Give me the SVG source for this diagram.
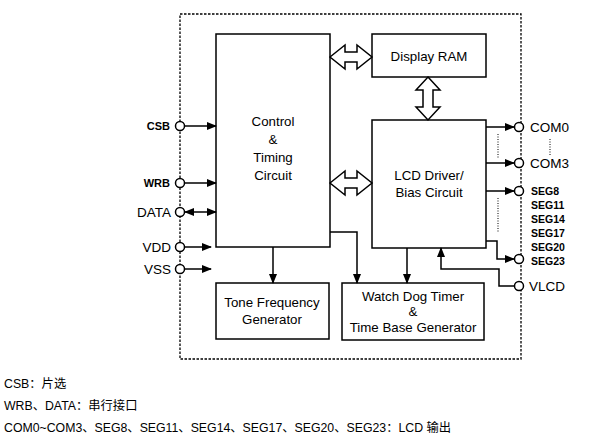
<svg xmlns="http://www.w3.org/2000/svg" width="599" height="439" viewBox="0 0 599 439">
<defs>
<marker id="ah" markerWidth="10" markerHeight="8" refX="9" refY="4" orient="auto" markerUnits="userSpaceOnUse">
<path d="M0,0 L10,4 L0,8 Z" fill="#000"/>
</marker>
<marker id="ahs" markerWidth="10" markerHeight="8" refX="1" refY="4" orient="auto" markerUnits="userSpaceOnUse">
<path d="M10,0 L0,4 L10,8 Z" fill="#000"/>
</marker>
</defs>
<style>
.blk{fill:#fff;stroke:#000;stroke-width:1.5}
.ln{fill:none;stroke:#000;stroke-width:1.5}
.dash{fill:none;stroke:#000;stroke-width:1.3;stroke-dasharray:2.5,1.5}
.dot{fill:none;stroke:#000;stroke-width:1;stroke-dasharray:1,1.5}
.pin{fill:#fff;stroke:#000;stroke-width:1.5}
.hol{fill:#fff;stroke:#000;stroke-width:1.5;stroke-linejoin:miter}
.t{font-family:"Liberation Sans",Arial,sans-serif;font-size:13.3px;fill:#000;text-anchor:middle}
.pl{font-family:"Liberation Sans",Arial,sans-serif;font-size:13.5px;fill:#000}
.pb{font-family:"Liberation Sans",Arial,sans-serif;font-size:10.5px;font-weight:bold;fill:#000}
.cap{font-family:"Liberation Sans","Noto Sans CJK SC",sans-serif;font-size:12.3px;fill:#000}
</style>
<rect class="dash" x="180" y="14" width="341" height="345"/>
<g id="control"><rect class="blk" x="216" y="34" width="114" height="213"/>
<text class="t" x="273" y="126">Control</text><text class="t" x="273" y="144">&amp;</text><text class="t" x="273" y="162">Timing</text><text class="t" x="273" y="180">Circuit</text></g>
<g id="ram"><rect class="blk" x="372" y="34" width="114" height="43"/><text class="t" x="429" y="61">Display RAM</text></g>
<g id="lcd"><rect class="blk" x="372" y="120" width="114" height="128"/><text class="t" x="429" y="180">LCD Driver/</text><text class="t" x="429" y="197">Bias Circuit</text></g>
<g id="tone"><rect class="blk" x="216" y="283" width="113" height="56"/><text class="t" x="272" y="307">Tone Frequency</text><text class="t" x="272" y="324">Generator</text></g>
<g id="wdt"><rect class="blk" x="342" y="283" width="142" height="57"/><text class="t" x="413" y="301">Watch Dog Timer</text><text class="t" x="413" y="316">&amp;</text><text class="t" x="413" y="332">Time Base Generator</text></g>
<g id="connectors">
<path class="hol" d="M330,57 L345,45 L345,52 L357,52 L357,45 L372,57 L357,69 L357,62 L345,62 L345,69 Z"/>
<path class="hol" d="M330,183 L345,171 L345,178 L357,178 L357,171 L372,183 L357,195 L357,188 L345,188 L345,195 Z"/>
<path class="hol" d="M428,77 L440,90 L433,90 L433,107 L440,107 L428,120 L416,107 L423,107 L423,90 L416,90 Z"/>
<line class="ln" x1="185" y1="126" x2="216" y2="126" marker-end="url(#ah)"/>
<line class="ln" x1="185" y1="183" x2="216" y2="183" marker-end="url(#ah)"/>
<line class="ln" x1="185" y1="212" x2="216" y2="212" marker-start="url(#ahs)" marker-end="url(#ah)"/>
<line class="ln" x1="185" y1="247" x2="211" y2="247" marker-end="url(#ah)"/>
<line class="ln" x1="185" y1="269" x2="211" y2="269" marker-end="url(#ah)"/>
<line class="ln" x1="273" y1="247" x2="273" y2="283" marker-end="url(#ah)"/>
<polyline class="ln" points="330,232 357,232 357,283" marker-end="url(#ah)"/>
<line class="ln" x1="407" y1="248" x2="407" y2="283" marker-end="url(#ah)"/>
<polyline class="ln" points="514,286 499,286 499,269 441,269 441,248" marker-end="url(#ah)"/>
<line class="ln" x1="486" y1="127" x2="514" y2="127" marker-end="url(#ah)"/>
<line class="ln" x1="486" y1="163" x2="514" y2="163" marker-end="url(#ah)"/>
<line class="ln" x1="486" y1="191" x2="514" y2="191" marker-end="url(#ah)"/>
<polyline class="ln" points="486,241 497,241 497,259 514,259" marker-end="url(#ah)"/>
<line class="dot" x1="498" y1="134" x2="498" y2="158"/>
<line class="dot" x1="498" y1="198" x2="498" y2="233"/>
<line class="dot" x1="550" y1="139" x2="550" y2="155"/>
</g>
<g id="pins">
<circle class="pin" cx="180" cy="126" r="4.5"/>
<circle class="pin" cx="180" cy="183" r="4.5"/>
<circle class="pin" cx="180" cy="212" r="4.5"/>
<circle class="pin" cx="180" cy="247" r="4.5"/>
<circle class="pin" cx="180" cy="269" r="4.5"/>
<circle class="pin" cx="519" cy="127" r="4.5"/>
<circle class="pin" cx="519" cy="163" r="4.5"/>
<circle class="pin" cx="519" cy="191" r="4.5"/>
<circle class="pin" cx="519" cy="259" r="4.5"/>
<circle class="pin" cx="519" cy="286" r="4.5"/>
</g>
<g id="labels">
<text class="pb" x="170" y="130" text-anchor="end" style="font-size:11px">CSB</text>
<text class="pb" x="170" y="187" text-anchor="end" style="font-size:11px">WRB</text>
<text class="pl" x="171" y="217" text-anchor="end">DATA</text>
<text class="pl" x="171" y="252" text-anchor="end">VDD</text>
<text class="pl" x="171" y="274" text-anchor="end">VSS</text>
<text class="pl" x="530" y="132">COM0</text>
<text class="pl" x="530" y="168">COM3</text>
<text class="pb" x="531" y="195">SEG8</text>
<text class="pb" x="531" y="209">SEG11</text>
<text class="pb" x="531" y="223">SEG14</text>
<text class="pb" x="531" y="237">SEG17</text>
<text class="pb" x="531" y="251">SEG20</text>
<text class="pb" x="531" y="265">SEG23</text>
<text class="pl" x="529" y="291">VLCD</text>
</g>
<text class="cap" x="4" y="388">CSB：片选</text>
<text class="cap" x="4" y="410">WRB、DATA：串行接口</text>
<text class="cap" x="4" y="432">COM0~COM3、SEG8、SEG11、SEG14、SEG17、SEG20、SEG23：LCD 输出</text>
</svg>
